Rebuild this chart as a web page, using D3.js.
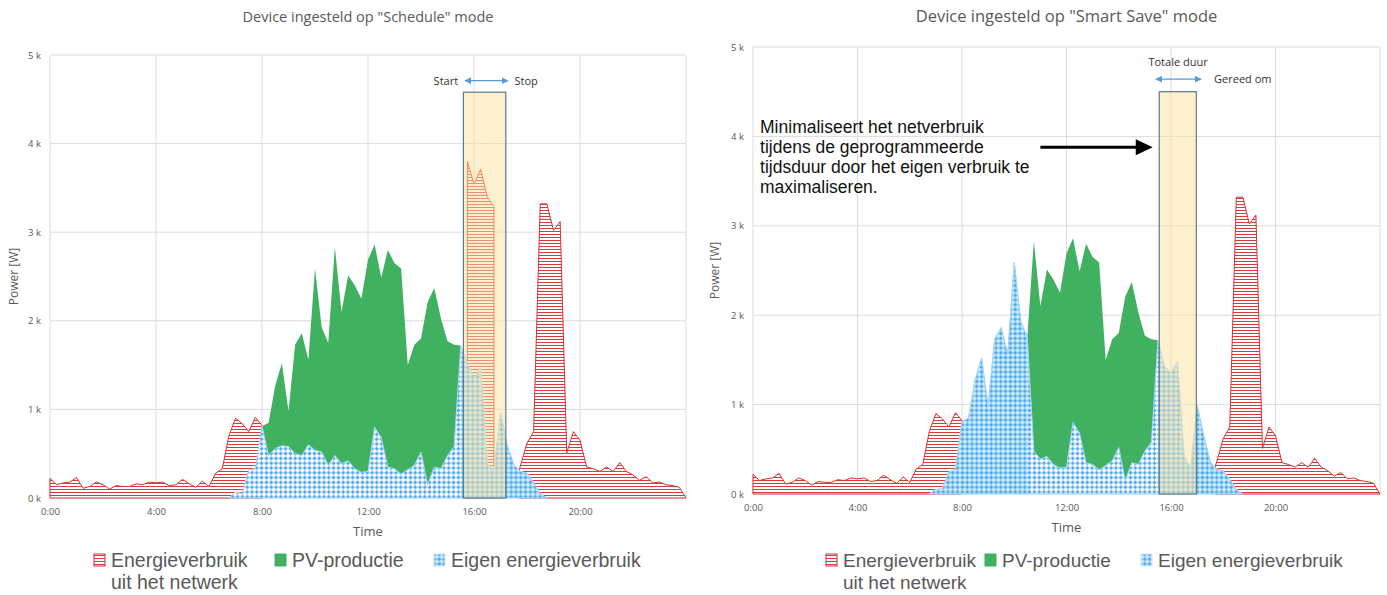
<!DOCTYPE html>
<html>
<head>
<meta charset="utf-8">
<script src="https://cdn.jsdelivr.net/npm/d3@7"></script>
<style>
  body { margin: 0; background: #fff; }
  svg { display: block; font-family: "Open Sans", sans-serif; }
</style>
</head>
<body>
<div id="chart"></div>
<script>
// hours on the x axis, kW on the y axis
const xTicks = [0, 4, 8, 12, 16, 20];
const yTicks = [0, 1, 2, 3, 4, 5];

// grid consumption, [hour, kW], null = no area
const gridLeft = [
  [0,0.22],[0.25,0.15],[0.5,0.17],[0.75,0.18],[1,0.23],[1.25,0.11],[1.5,0.13],[1.75,0.18],
  [2,0.15],[2.25,0.10],[2.5,0.14],[2.75,0.13],[3,0.13],[3.25,0.16],[3.5,0.15],[3.75,0.18],
  [4,0.17],[4.25,0.18],[4.5,0.14],[4.75,0.15],[5,0.21],[5.25,0.16],[5.5,0.12],[5.75,0.19],
  [6,0.13],[6.25,0.28],[6.5,0.33],[6.75,0.70],[7,0.90],[7.25,0.84],[7.5,0.75],[7.75,0.91],[8,0.82],
  [8,null],
  [15.75,3.80],[16,3.54],[16.25,3.71],[16.5,3.40],[16.75,3.29],
  [16.8,null],
  [17.68,0.29],[18,0.62],[18.25,0.75],[18.5,3.32],[18.75,3.32],[19,3.02],[19.25,3.12],
  [19.5,0.51],[19.75,0.75],[20,0.65],[20.25,0.35],[20.5,0.33],[20.75,0.30],[21,0.35],[21.25,0.30],
  [21.5,0.40],[21.75,0.30],[22,0.26],[22.25,0.20],[22.5,0.24],[22.75,0.17],[23,0.18],[23.25,0.15],
  [23.5,0.14],[23.75,0.12],[24,0]
];
const gridRight = [
  [0,0.22],[0.25,0.15],[0.5,0.17],[0.75,0.18],[1,0.23],[1.25,0.11],[1.5,0.13],[1.75,0.18],
  [2,0.15],[2.25,0.10],[2.5,0.14],[2.75,0.13],[3,0.13],[3.25,0.16],[3.5,0.15],[3.75,0.18],
  [4,0.17],[4.25,0.18],[4.5,0.14],[4.75,0.15],[5,0.21],[5.25,0.16],[5.5,0.12],[5.75,0.19],
  [6,0.13],[6.25,0.28],[6.5,0.33],[6.75,0.70],[7,0.90],[7.25,0.84],[7.5,0.75],[7.75,0.91],[8,0.82],
  [8,null],
  [17.68,0.29],[18,0.62],[18.25,0.75],[18.5,3.32],[18.75,3.32],[19,3.02],[19.25,3.12],
  [19.5,0.51],[19.75,0.75],[20,0.65],[20.25,0.35],[20.5,0.33],[20.75,0.30],[21,0.35],[21.25,0.30],
  [21.5,0.40],[21.75,0.30],[22,0.26],[22.25,0.20],[22.5,0.24],[22.75,0.17],[23,0.18],[23.25,0.15],
  [23.5,0.14],[23.75,0.12],[24,0]
];

// PV production (same day in both charts)
const pvProduction = [
  [8,0.81],[8.25,0.85],[8.5,1.27],[8.75,1.52],[9,0.98],[9.25,1.73],[9.5,1.86],[9.75,1.56],
  [10,2.59],[10.25,1.93],[10.5,1.75],[10.75,2.83],[11,2.10],[11.25,2.51],[11.5,2.40],[11.75,2.25],
  [12,2.69],[12.25,2.86],[12.5,2.49],[12.75,2.80],[13,2.65],[13.25,2.59],[13.5,1.50],[13.75,1.73],
  [14,1.80],[14.25,2.21],[14.5,2.37],[14.75,2.03],[15,1.77],[15.25,1.73],[15.5,1.72]
];

// self consumption
const ownLeft = [
  [6.75,0],[7,0.07],[7.25,0.05],[7.5,0.32],[7.75,0.33],[8,0.81],[8.25,0.48],[8.5,0.56],
  [8.75,0.59],[9,0.58],[9.25,0.50],[9.5,0.48],[9.75,0.60],[10,0.54],[10.25,0.52],[10.5,0.37],
  [10.75,0.48],[11,0.39],[11.25,0.42],[11.5,0.33],[11.75,0.29],[12,0.30],[12.25,0.80],[12.5,0.68],
  [12.75,0.35],[13,0.33],[13.25,0.27],[13.5,0.32],[13.75,0.37],[14,0.52],[14.25,0.15],[14.5,0.35],
  [14.75,0.33],[15,0.48],[15.25,0.58],[15.5,1.72],[15.75,1.52],[16,1.36],[16.25,1.47],[16.5,0.39],
  [16.75,0.32],[17,0.96],[17.25,0.60],[17.5,0.38],[17.75,0.30],[18,0.28],[18.25,0.17],[18.5,0.05],[18.75,0]
];
const ownRight = [
  [6.75,0],[7,0.05],[7.25,0.06],[7.5,0.25],[7.75,0.27],[8,0.81],[8.25,0.85],[8.5,1.27],
  [8.75,1.52],[9,0.98],[9.25,1.73],[9.5,1.86],[9.75,1.56],[10,2.59],[10.25,1.93],[10.5,1.75],
  [10.75,0.48],[11,0.39],[11.25,0.42],[11.5,0.33],[11.75,0.29],[12,0.30],[12.25,0.80],[12.5,0.68],
  [12.75,0.35],[13,0.33],[13.25,0.27],[13.5,0.32],[13.75,0.37],[14,0.52],[14.25,0.15],[14.5,0.35],
  [14.75,0.33],[15,0.48],[15.25,0.58],[15.5,1.72],[15.75,1.42],[16,1.35],[16.25,1.48],[16.5,0.42],
  [16.75,0.29],[17,0.99],[17.25,0.66],[17.5,0.36],[17.75,0.28],[18,0.26],[18.25,0.16],[18.5,0.05],[18.75,0]
];

const legendLabels = [["Energieverbruik", "uit het netwerk"], ["PV-productie"], ["Eigen energieverbruik"]];

const W = 1387, H = 595;
const svg = d3.select("#chart").append("svg")
    .attr("width", W)
    .attr("height", H);

// patterns
const defs = svg.append("defs");

const stripes = defs.append("pattern")
    .attr("id", "stripes")
    .attr("patternUnits", "userSpaceOnUse")
    .attr("width", 6).attr("height", 3);
stripes.append("rect").attr("width", 6).attr("height", 3).attr("fill", "#fff");
stripes.append("rect").attr("width", 6).attr("height", 1).attr("fill", "#d83a3f");

function dots(id, bg) {
    const p = defs.append("pattern")
        .attr("id", id)
        .attr("patternUnits", "userSpaceOnUse")
        .attr("width", 4.8).attr("height", 4.8);
    p.append("rect").attr("width", 4.8).attr("height", 4.8).attr("fill", bg);
    p.append("path")
        .attr("d", "M2.4,0.2L4.6,2.4L2.4,4.6L0.2,2.4Z")
        .attr("fill", "#4fa8ee");
}
dots("dotsWhite", "#ffffff");
dots("dotsLight", "#c9ebfd");

const red = "#d62f34", green = "#3fb160", textGrey = "#595959";

function drawChart(cfg) {
    const g = svg.append("g");
    const x = d3.scaleLinear().domain([0, 24]).range([cfg.left, cfg.left + cfg.width]);
    const y = d3.scaleLinear().domain([0, 5]).range([cfg.top + cfg.height, cfg.top]);

    // title
    g.append("text")
        .attr("x", cfg.left + cfg.width / 2)
        .attr("y", 22)
        .attr("text-anchor", "middle")
        .style("font-size", cfg.titleSize + "px")
        .style("fill", textGrey)
        .text(cfg.title);

    // gridlines
    g.append("g")
        .selectAll("line")
        .data(xTicks.concat([24]))
        .join("line")
            .attr("x1", d => x(d)).attr("x2", d => x(d))
            .attr("y1", y(0)).attr("y2", y(5))
            .attr("stroke", "#dcdcdc");
    g.append("g")
        .selectAll("line")
        .data(yTicks)
        .join("line")
            .attr("x1", x(0)).attr("x2", x(24))
            .attr("y1", d => y(d)).attr("y2", d => y(d))
            .attr("stroke", "#dcdcdc");

    // axes labels
    const yAxis = g.append("g")
        .attr("transform", `translate(${x(0)},0)`)
        .call(d3.axisLeft(y).tickValues(yTicks).tickSize(0).tickPadding(9).tickFormat(d => d + " k"));
    yAxis.select(".domain").remove();
    yAxis.selectAll("text").style("font-size", "9.5px").style("fill", textGrey).style("font-family", "Open Sans");

    const xAxis = g.append("g")
        .attr("transform", `translate(0,${y(0)})`)
        .call(d3.axisBottom(x).tickValues(xTicks).tickSize(0).tickPadding(10).tickFormat(d => d + ":00"));
    xAxis.select(".domain").remove();
    xAxis.selectAll("text").style("font-size", "9.5px").style("fill", textGrey).style("font-family", "Open Sans");

    g.append("text")
        .attr("transform", `translate(${x(0) - cfg.yTitleOffset},${(y(0) + y(5)) / 2}) rotate(-90)`)
        .attr("text-anchor", "middle")
        .attr("dy", "0.35em")
        .style("font-size", "12px")
        .style("fill", textGrey)
        .text("Power [W]");

    g.append("text")
        .attr("x", x(12))
        .attr("y", y(0) + 38)
        .attr("text-anchor", "middle")
        .style("font-size", "13px")
        .style("fill", textGrey)
        .text("Time");

    const area = d3.area()
        .defined(d => d[1] !== null)
        .x(d => x(d[0]))
        .y0(y(0))
        .y1(d => y(d[1]));

    // grid consumption
    g.append("path")
        .datum(cfg.grid)
        .attr("d", area)
        .attr("fill", "url(#stripes)")
        .attr("stroke", red)
        .attr("stroke-width", 1);

    // PV production
    g.append("path")
        .datum(pvProduction)
        .attr("d", area)
        .attr("fill", green);

    // self consumption
    g.append("path")
        .datum(cfg.own)
        .attr("d", area)
        .attr("fill", "url(#dotsWhite)")
        .attr("stroke", "#a6d6f6")
        .attr("stroke-width", 1);

    const clipId = "light-" + cfg.id;
    const clip = defs.append("clipPath").attr("id", clipId);
    clip.selectAll("rect")
        .data(cfg.lightRanges)
        .join("rect")
            .attr("x", d => x(d[0]))
            .attr("width", d => x(d[1]) - x(d[0]))
            .attr("y", y(5))
            .attr("height", y(0) - y(5));
    g.append("path")
        .datum(cfg.own)
        .attr("d", area)
        .attr("clip-path", `url(#${clipId})`)
        .attr("fill", "url(#dotsLight)")
        .attr("stroke", "#a6d6f6")
        .attr("stroke-width", 1);

    // device window
    g.append("rect")
        .attr("x", x(cfg.box[0]))
        .attr("width", x(cfg.box[1]) - x(cfg.box[0]))
        .attr("y", y(cfg.box[2]))
        .attr("height", y(0) - y(cfg.box[2]))
        .attr("fill", "#fbe2a0")
        .attr("fill-opacity", 0.5)
        .attr("stroke", "#5d7b8b")
        .attr("stroke-width", 1.2);

    return { g, x, y };
}

// blue double arrow
const arrowBlue = defs.append("marker")
    .attr("id", "arrowBlue")
    .attr("viewBox", "0 0 10 10")
    .attr("refX", 9).attr("refY", 5)
    .attr("markerWidth", 7).attr("markerHeight", 7)
    .attr("markerUnits", "userSpaceOnUse")
    .attr("orient", "auto-start-reverse");
arrowBlue.append("path").attr("d", "M0,0L10,5L0,10Z").attr("fill", "#5b9bd5");

function doubleArrow(g, x1, x2, yy) {
    g.append("line")
        .attr("x1", x1).attr("x2", x2)
        .attr("y1", yy).attr("y2", yy)
        .attr("stroke", "#5b9bd5")
        .attr("stroke-width", 1.2)
        .attr("marker-start", "url(#arrowBlue)")
        .attr("marker-end", "url(#arrowBlue)");
}

// left chart
const left = drawChart({
    id: "left", left: 50, top: 55, width: 636, height: 443, yTitleOffset: 36,
    title: "Device ingesteld op \"Schedule\" mode", titleSize: 14.5,
    grid: gridLeft, own: ownLeft,
    lightRanges: [[15.5, 19]],
    box: [15.6, 17.2, 4.58]
});
{
    const { g, x, y } = left;
    g.append("text")
        .attr("x", x(15.4)).attr("y", y(4.71))
        .attr("dy", "0.35em")
        .attr("text-anchor", "end")
        .style("font-size", "11px").style("fill", "#333")
        .text("Start");
    doubleArrow(g, x(15.66), x(17.28), y(4.71));
    g.append("text")
        .attr("x", x(17.53)).attr("y", y(4.71))
        .attr("dy", "0.35em")
        .style("font-size", "11px").style("fill", "#333")
        .text("Stop");
}

// right chart
const right = drawChart({
    id: "right", left: 753, top: 47, width: 627, height: 447, yTitleOffset: 38,
    title: "Device ingesteld op \"Smart Save\" mode", titleSize: 16.5,
    grid: gridRight, own: ownRight,
    lightRanges: [[6.7, 10.55], [15.5, 19]],
    box: [15.55, 16.97, 4.5]
});
{
    const { g, x, y } = right;
    g.append("text")
        .attr("x", x(16.27)).attr("y", y(4.83))
        .attr("dy", "0.35em")
        .attr("text-anchor", "middle")
        .style("font-size", "11px").style("fill", "#333")
        .text("Totale duur");
    doubleArrow(g, x(15.42), x(17.15), y(4.64));
    g.append("text")
        .attr("x", x(17.65)).attr("y", y(4.64))
        .attr("dy", "0.35em")
        .style("font-size", "11px").style("fill", "#333")
        .text("Gereed om");

    const note = ["Minimaliseert het netverbruik", "tijdens de geprogrammeerde",
                  "tijdsduur door het eigen verbruik te", "maximaliseren."];
    g.append("text")
        .attr("x", x(0.27)).attr("y", 133)
        .style("font-family", "Liberation Sans, Arial, sans-serif")
        .style("font-size", "17.5px").style("fill", "#111")
        .selectAll("tspan")
        .data(note)
        .join("tspan")
            .attr("x", x(0.27))
            .attr("dy", (d, i) => i ? 20 : 0)
            .text(d => d);

    g.append("line")
        .attr("x1", x(11.0)).attr("x2", x(14.75))
        .attr("y1", y(3.88)).attr("y2", y(3.88))
        .attr("stroke", "#000").attr("stroke-width", 3);
    g.append("path")
        .attr("d", `M${x(15.3)},${y(3.88)}L${x(14.65)},${y(3.88) - 8}L${x(14.65)},${y(3.88) + 8}Z`)
        .attr("fill", "#000");
}

// legends
function drawLegend(x0, yy, offsets, size) {
    const g = svg.append("g").style("font-family", "Liberation Sans, Arial, sans-serif");
    const fills = ["url(#stripes)", green, "url(#dotsLight)"];
    const strokes = [red, green, "#c9ebfd"];
    legendLabels.forEach((lines, i) => {
        g.append("rect")
            .attr("x", x0 + offsets[i]).attr("y", yy - 13)
            .attr("width", 11).attr("height", 12)
            .attr("fill", fills[i])
            .attr("stroke", strokes[i]);
        g.append("text")
            .attr("x", x0 + offsets[i] + 17).attr("y", yy)
            .style("font-size", size + "px").style("fill", textGrey)
            .selectAll("tspan")
            .data(lines)
            .join("tspan")
                .attr("x", x0 + offsets[i] + 17)
                .attr("dy", (d, j) => j ? 22 : 0)
                .text(d => d);
    });
}
drawLegend(94, 567, [0, 181, 340], 19.5);
drawLegend(826, 567, [0, 159, 315], 19);
</script>
</body>
</html>
